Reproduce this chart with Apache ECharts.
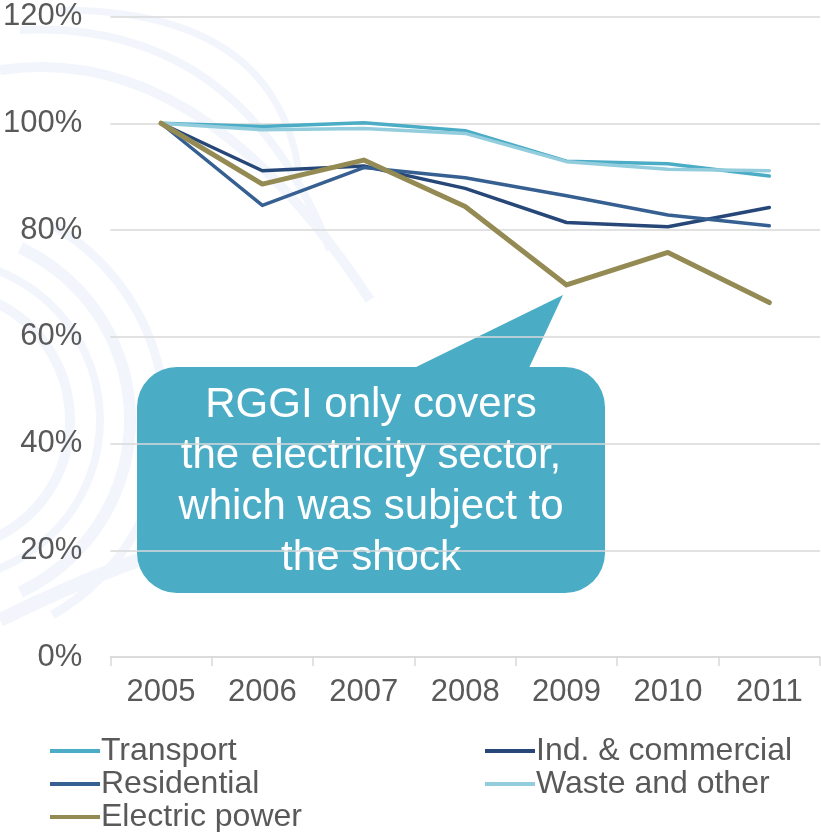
<!DOCTYPE html>
<html>
<head>
<meta charset="utf-8">
<script src="https://cdn.jsdelivr.net/npm/echarts@6/dist/echarts.min.js"></script>
<style>
  html, body { margin: 0; padding: 0; background: #fff; }
  #chart { width: 821px; height: 832px; }
</style>
</head>
<body>
<div id="chart"></div>
<script>
  var years = ['2005', '2006', '2007', '2008', '2009', '2010', '2011'];
  var transport = [100, 99.4, 100.1, 98.6, 92.9, 92.4, 90.1];
  var indCommercial = [100, 91.1, 92.0, 87.8, 81.4, 80.6, 84.2];
  var residential = [100, 84.6, 91.7, 89.8, 86.4, 82.8, 80.8];
  var wasteOther = [100, 98.8, 99.0, 98.1, 92.8, 91.4, 91.1];
  var electricPower = [100, 88.6, 93.1, 84.4, 69.7, 75.8, 66.4];
  var yTicks = [0, 20, 40, 60, 80, 100, 120];

  var font = 'Liberation Sans, Arial, sans-serif';
  var grey = '#595959';
  var swirl = '#F2F6FC';

  function line(name, data, color, width) {
    return {
      name: name,
      type: 'line',
      data: data,
      symbol: 'none',
      lineStyle: { color: color, width: width, cap: 'round', join: 'round' },
      itemStyle: { color: color }
    };
  }

  // one legend box per item, so the two columns sit like the original
  function legendItem(name, left, top) {
    return {
      left: left, top: top,
      itemWidth: 50, itemHeight: 4,
      icon: 'rect',
      textStyle: { color: grey, fontSize: 32, fontFamily: font, padding: [0, 0, 0, -4] },
      data: [name]
    };
  }

  // faint background swirl
  function arc(cx, cy, r, a0, a1, w) {
    return {
      type: 'arc', z: -10, silent: true,
      shape: { cx: cx, cy: cy, r: r, startAngle: a0 * Math.PI / 180, endAngle: a1 * Math.PI / 180 },
      style: { stroke: swirl, lineWidth: w, fill: null }
    };
  }
  function curve(x1, y1, cx, cy, x2, y2, w) {
    return {
      type: 'bezierCurve', z: -10, silent: true,
      shape: { x1: x1, y1: y1, cpx1: cx, cpy1: cy, x2: x2, y2: y2 },
      style: { stroke: swirl, lineWidth: w, fill: null }
    };
  }

  var chart = echarts.init(document.getElementById('chart'));
  var option = {
    animation: false,
    textStyle: { fontFamily: font },
    grid: { left: 110, right: 1, top: 16.5, bottom: 175 },
    xAxis: {
      type: 'category',
      data: years,
      boundaryGap: true,
      axisLine: { lineStyle: { color: '#D9D9D9', width: 1.5 } },
      axisTick: { show: true, length: 9, lineStyle: { color: '#D9D9D9', width: 1.5 } },
      axisLabel: { color: grey, fontSize: 31, margin: 20, fontFamily: font }
    },
    yAxis: {
      type: 'value',
      min: yTicks[0],
      max: yTicks[yTicks.length - 1],
      interval: 20,
      axisLine: { show: false },
      axisTick: { show: false },
      axisLabel: { color: grey, fontSize: 31, margin: 28, fontFamily: font, formatter: '{value}%' },
      splitLine: { lineStyle: { color: '#D9D9D9', width: 1.5 } }
    },
    legend: [
      legendItem('Transport', 45, 730),
      legendItem('Residential', 45, 763),
      legendItem('Electric power', 45, 796),
      legendItem('Ind. & commercial', 480, 730),
      legendItem('Waste and other', 480, 763)
    ],
    series: [
      line('Transport', transport, '#4BACC6', 3.5),
      line('Ind. & commercial', indCommercial, '#264778', 3.5),
      line('Residential', residential, '#376092', 3.5),
      line('Waste and other', wasteOther, '#93CDDD', 3.5),
      line('Electric power', electricPower, '#948A54', 5)
    ],
    graphic: [
      arc(-60, 420, 130, -75, 75, 10),
      arc(-60, 420, 160, -70, 70, 8),
      arc(-60, 420, 190, -65, 65, 12),
      arc(-60, 420, 225, -60, 60, 9),
      curve(0, 70, 200, 40, 370, 300, 10),
      curve(20, 30, 240, 20, 330, 250, 8),
      curve(60, 10, 280, 10, 300, 180, 7),
      curve(0, 620, 120, 560, 260, 520, 14),
      {
        type: 'group',
        z: 100,
        children: [{
          type: 'polygon',
          shape: { points: [[410, 370], [563, 295], [528, 370]] },
          style: { fill: '#4BACC6' }
        }, {
          type: 'rect',
          shape: { x: 137, y: 367, width: 468, height: 226, r: 40 },
          style: { fill: '#4BACC6' }
        }, {
          type: 'text',
          x: 371, y: 482,
          style: {
            text: 'RGGI only covers\nthe electricity sector,\nwhich was subject to\nthe shock',
            fill: '#ffffff',
            font: '42px ' + font,
            align: 'center',
            verticalAlign: 'middle',
            lineHeight: 51
          }
        }]
      }
    ]
  };
  chart.setOption(option);
</script>
</body>
</html>
